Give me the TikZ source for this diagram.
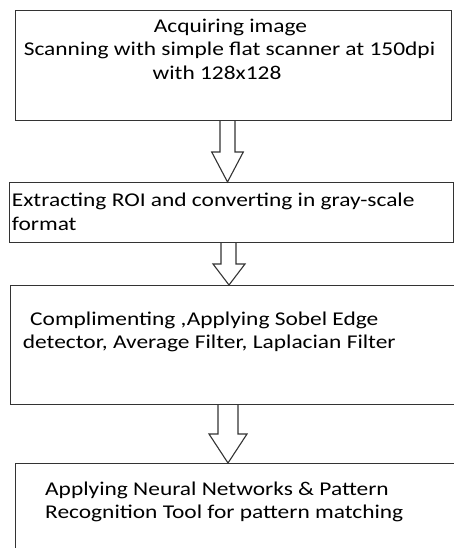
\documentclass[tikz,border=0pt]{standalone}
\usepackage{fontspec}
\setmainfont{Carlito}[FakeStretch=1.2]
\begin{document}
\begin{tikzpicture}[x=1pt,y=-1pt,
  box/.style={draw=black!80, line width=1.1pt, inner sep=0pt, anchor=north west},
  blockarrow/.style={draw=black!80, line width=1.1pt, line join=miter},
  txt/.style={inner sep=0pt, text=black, font=\fontsize{19.5}{23.5}\selectfont}]
\clip (0,0) rectangle (454,548);
\useasboundingbox (0,0) rectangle (454,548);
% boxes
\node[box, minimum width=436pt, minimum height=110pt] (b1) at (15,10) {};
\node[box, minimum width=444pt, minimum height=60pt] (b2) at (9,182) {};
\node[box, minimum width=450pt, minimum height=119pt] (b3) at (10,285) {};
\node[box, minimum width=445pt, minimum height=100pt] (b4) at (15,463) {};
% block arrows
\draw[blockarrow] (220,0 |- b1.south) -- (220,152) -- (211.7,152) -- (227.5,0 |- b2.north) -- (243.3,152) -- (235,152) -- (235,0 |- b1.south);
\draw[blockarrow] (221,0 |- b2.south) -- (221,264) -- (213,264) -- (229,0 |- b3.north) -- (245,264) -- (236,264) -- (236,0 |- b2.south);
\draw[blockarrow] (218,0 |- b3.south) -- (218,434) -- (209,434) -- (228,0 |- b4.north) -- (247,434) -- (238,434) -- (238,0 |- b3.south);
% texts
\node[txt, anchor=base] (t1a) at (230.5,32.7) {Acquiring image};
\node[txt, anchor=base] (t1b) at (229.5,56) {Scanning with simple flat scanner at 150dpi};
\node[txt, anchor=base] (t1c) at (217,79.5) {with 128x128};
\node[txt, anchor=base west] (t2a) at (11.7,206) {Extracting ROI and converting in gray-scale};
\node[txt, anchor=base west] (t2b) at (11.7,230) {format};
\node[txt, anchor=base west] (t3a) at (30,325) {Complimenting ,Applying Sobel Edge};
\node[txt, anchor=base west] (t3b) at (22.7,348) {detector, Average Filter, Laplacian Filter};
\node[txt, anchor=base west] (t4a) at (45,495) {Applying Neural Networks \& Pattern};
\node[txt, anchor=base west] (t4b) at (45,518) {Recognition Tool for pattern matching};
\end{tikzpicture}
\end{document}
